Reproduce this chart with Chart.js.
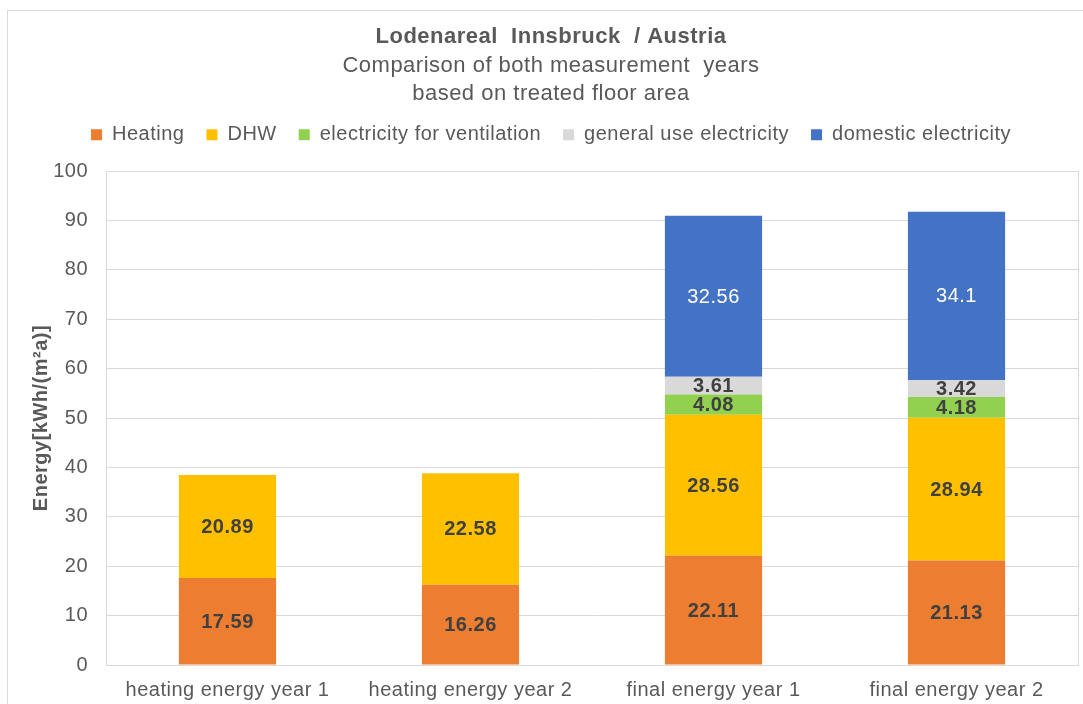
<!DOCTYPE html>
<html>
<head>
<meta charset="utf-8">
<title>Lodenareal Innsbruck</title>
<script src="https://cdn.jsdelivr.net/npm/chart.js@4.4.1/dist/chart.umd.min.js"></script>
<style>
  body { margin: 0; background: #fff; overflow: hidden; }
  #frame { position: absolute; left: 7px; top: 10px; width: 1100px; height: 720px; border: 1px solid #d9d9d9; }
  #chart { position: absolute; left: 0; top: 0; }
</style>
</head>
<body>
<div id="frame"></div>
<canvas id="chart" width="1083" height="704"></canvas>
<script>
const categories = ['heating energy year 1', 'heating energy year 2', 'final energy year 1', 'final energy year 2'];
const heating = [17.59, 16.26, 22.11, 21.13];
const dhw = [20.89, 22.58, 28.56, 28.94];
const ventilation = [null, null, 4.08, 4.18];
const generalUse = [null, null, 3.61, 3.42];
const domestic = [null, null, 32.56, 34.1];

const FONT = "'Liberation Sans', Arial, sans-serif";
const GREY = '#595959';
const LINE = '#d9d9d9';

// Excel-like slightly wider text spacing
const textSpacing = {
    id: 'textSpacing',
    beforeLayout(chart) { chart.ctx.letterSpacing = '0.5px'; },
    beforeDraw(chart) { chart.ctx.letterSpacing = '0.5px'; }
};

// extra room between legend and plot area
const legendGap = {
    id: 'legendGap',
    afterInit(chart) {
        const fit = chart.legend.fit;
        chart.legend.fit = function () {
            fit.call(this);
            this.height += 16.3;
        };
    }
};

// value labels in the middle of each segment
const barLabels = {
    id: 'barLabels',
    afterDatasetsDraw(chart) {
        const ctx = chart.ctx;
        ctx.save();
        ctx.textAlign = 'center';
        ctx.textBaseline = 'middle';
        chart.data.datasets.forEach((ds, i) => {
            const meta = chart.getDatasetMeta(i);
            meta.data.forEach((bar, j) => {
                const v = ds.data[j];
                if (v == null) return;
                const p = bar.getProps(['x', 'y', 'base'], true);
                ctx.fillStyle = ds.labelColor;
                ctx.font = ds.labelFont;
                ctx.fillText(String(v), p.x, (p.y + p.base) / 2 + 1);
            });
        });
        ctx.restore();
    }
};

function makeSet(label, data, color, labelColor, labelFont) {
    return {
        label: label,
        data: data,
        backgroundColor: color,
        borderWidth: 0,
        barPercentage: 0.4,
        categoryPercentage: 1,
        labelColor: labelColor,
        labelFont: labelFont
    };
}

Chart.defaults.font.family = FONT;
Chart.defaults.color = GREY;

const boldLabel = 'bold 20px ' + FONT;
const data = {
    labels: categories,
    datasets: [
        makeSet('Heating', heating, '#ED7D31', '#404040', boldLabel),
        makeSet('DHW', dhw, '#FFC000', '#404040', boldLabel),
        makeSet('electricity for ventilation', ventilation, '#92D050', '#404040', boldLabel),
        makeSet('general use electricity', generalUse, '#D9D9D9', '#404040', boldLabel),
        makeSet('domestic electricity', domestic, '#4472C4', '#ffffff', '20px ' + FONT)
    ]
};

const config = {
    type: 'bar',
    data: data,
    options: {
        responsive: false,
        animation: false,
        devicePixelRatio: 1,
        layout: { padding: { top: 15, left: 24, right: 5, bottom: 3 } },
        plugins: {
            title: {
                display: true,
                text: 'Lodenareal  Innsbruck  / Austria',
                color: GREY,
                font: { size: 22, weight: 'bold' },
                padding: { top: 8.3, bottom: 0 }
            },
            subtitle: {
                display: true,
                text: ['Comparison of both measurement  years', 'based on treated floor area'],
                color: GREY,
                font: { size: 22, lineHeight: 28 / 22 },
                padding: { top: 1.8, bottom: -4.8 }
            },
            legend: {
                display: true,
                labels: {
                    boxWidth: 11,
                    boxHeight: 11,
                    padding: 22,
                    color: GREY,
                    font: { size: 20 }
                }
            },
            tooltip: { enabled: false }
        },
        scales: {
            x: {
                stacked: true,
                grid: { display: false, drawTicks: false },
                border: { display: true, color: LINE },
                ticks: { color: GREY, font: { size: 20 }, padding: 13, maxRotation: 0, autoSkip: false },
                afterFit(scale) { scale.height = 36; }
            },
            y: {
                stacked: true,
                min: 0,
                max: 100,
                ticks: { stepSize: 10, padding: 18, color: GREY, font: { size: 20 } },
                grid: { color: LINE, drawTicks: false },
                border: { display: true, color: LINE },
                title: {
                    display: true,
                    text: 'Energy[kWh/(m²a)]',
                    color: GREY,
                    font: { size: 20, weight: 'bold' },
                    padding: { top: 5, bottom: 0 }
                },
                afterFit(scale) { scale.width = 82; }
            },
            y2: {
                position: 'right',
                grid: { display: false, drawTicks: false },
                ticks: { display: false },
                border: { display: true, color: LINE },
                afterFit(scale) { scale.width = 0; }
            }
        }
    },
    plugins: [textSpacing, legendGap, barLabels]
};

const ctx = document.getElementById('chart').getContext('2d');
window.chart = new Chart(ctx, config);
</script>
</body>
</html>
